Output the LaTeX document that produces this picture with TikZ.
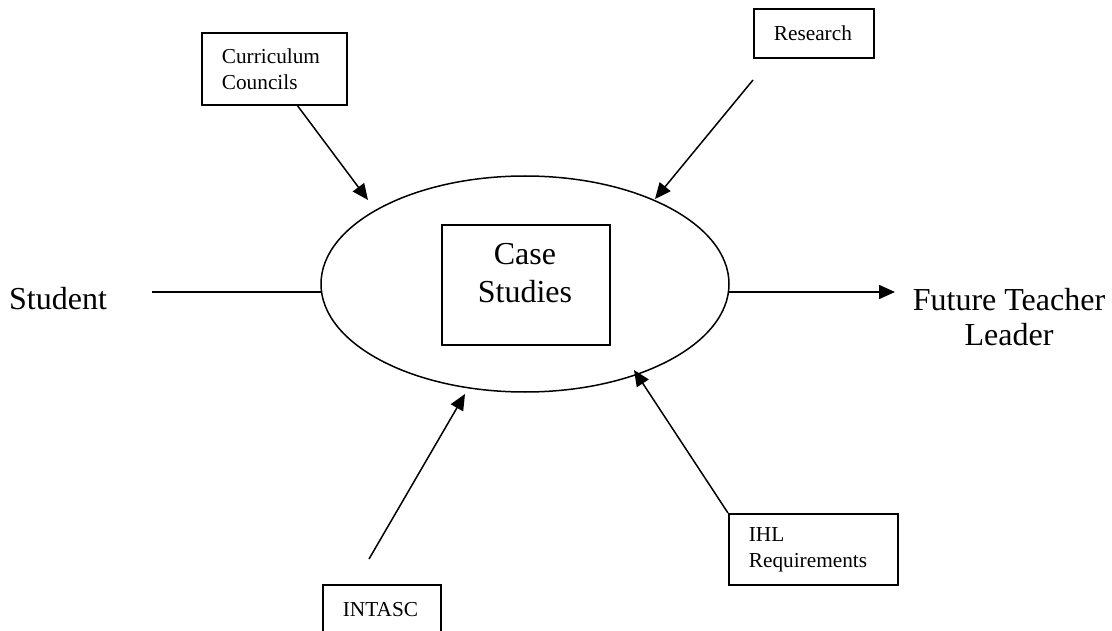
\documentclass[tikz,border=0pt]{standalone}
\usepackage{fontspec}
\setmainfont{Liberation Serif}
\usetikzlibrary{arrows.meta,shapes.geometric}
\tikzset{
  lbl/.style={font=\fontsize{32}{36}\selectfont, inner sep=0pt},
  sbox/.style={draw, line width=1.7pt, font=\fontsize{21.3}{26}\selectfont,
    inner ysep=0pt, inner xsep=20pt, align=left, anchor=north west},
  arr/.style={line width=1.5pt, -{Triangle[length=16pt,width=14pt]}},
  plain/.style={line width=1.5pt},
}
\begin{document}
\begin{tikzpicture}[x=1pt,y=-1pt]
\clip (0,0) rectangle (1112,631);
\fill[white] (0,0) rectangle (1112,631);
% central ellipse and box
\node[draw, line width=1.5pt, ellipse, minimum width=408pt, minimum height=216pt, inner sep=0pt] (ell) at (525,284) {};
\node[draw, line width=1.7pt, minimum width=168pt, minimum height=120pt, inner sep=0pt, anchor=north west] (cs) at (441,224) {};
\node[lbl, align=center, font=\fontsize{32}{38}\selectfont, anchor=base] (cst) at (525,302) {Case\\Studies};
% side labels
\node[lbl, anchor=base west] (stu) at (9,309) {Student};
\node[lbl, align=center, font=\fontsize{32}{35}\selectfont, anchor=base] (ftl) at (1009,345) {Future Teacher\\Leader};
% boxes
\node[sbox, text width=105pt, minimum height=72pt] (cc) at (201,32) {Curriculum\\Councils};
\node[sbox, text width=80pt, minimum height=49pt] (rs) at (753,8) {Research};
\node[sbox, text width=78pt, minimum height=49pt] (in) at (322,584) {INTASC};
\node[sbox, text width=129pt, minimum height=71pt] (ihl) at (728,513) {IHL\\Requirements};
% connector end points
\coordinate (s1) at (152,292);
\coordinate (s2) at (321,292);
\coordinate (f1) at (729,292);
\coordinate (f2) at (895,292);
\coordinate (c1) at (297,105);
\coordinate (c2) at (368,200);
\coordinate (r1) at (753,80);
\coordinate (r2) at (655,199);
\coordinate (i1) at (369,559);
\coordinate (i2) at (465,394);
\coordinate (h2) at (634,370);
% connectors
\draw[plain] (s1) -- (s2);
\draw[arr] (f1) -- (f2);
\draw[arr] (c1) -- (c2);
\draw[arr] (r1) -- (r2);
\draw[arr] (i1) -- (i2);
\draw[arr] (ihl.north west) -- (h2);
\end{tikzpicture}
\end{document}
